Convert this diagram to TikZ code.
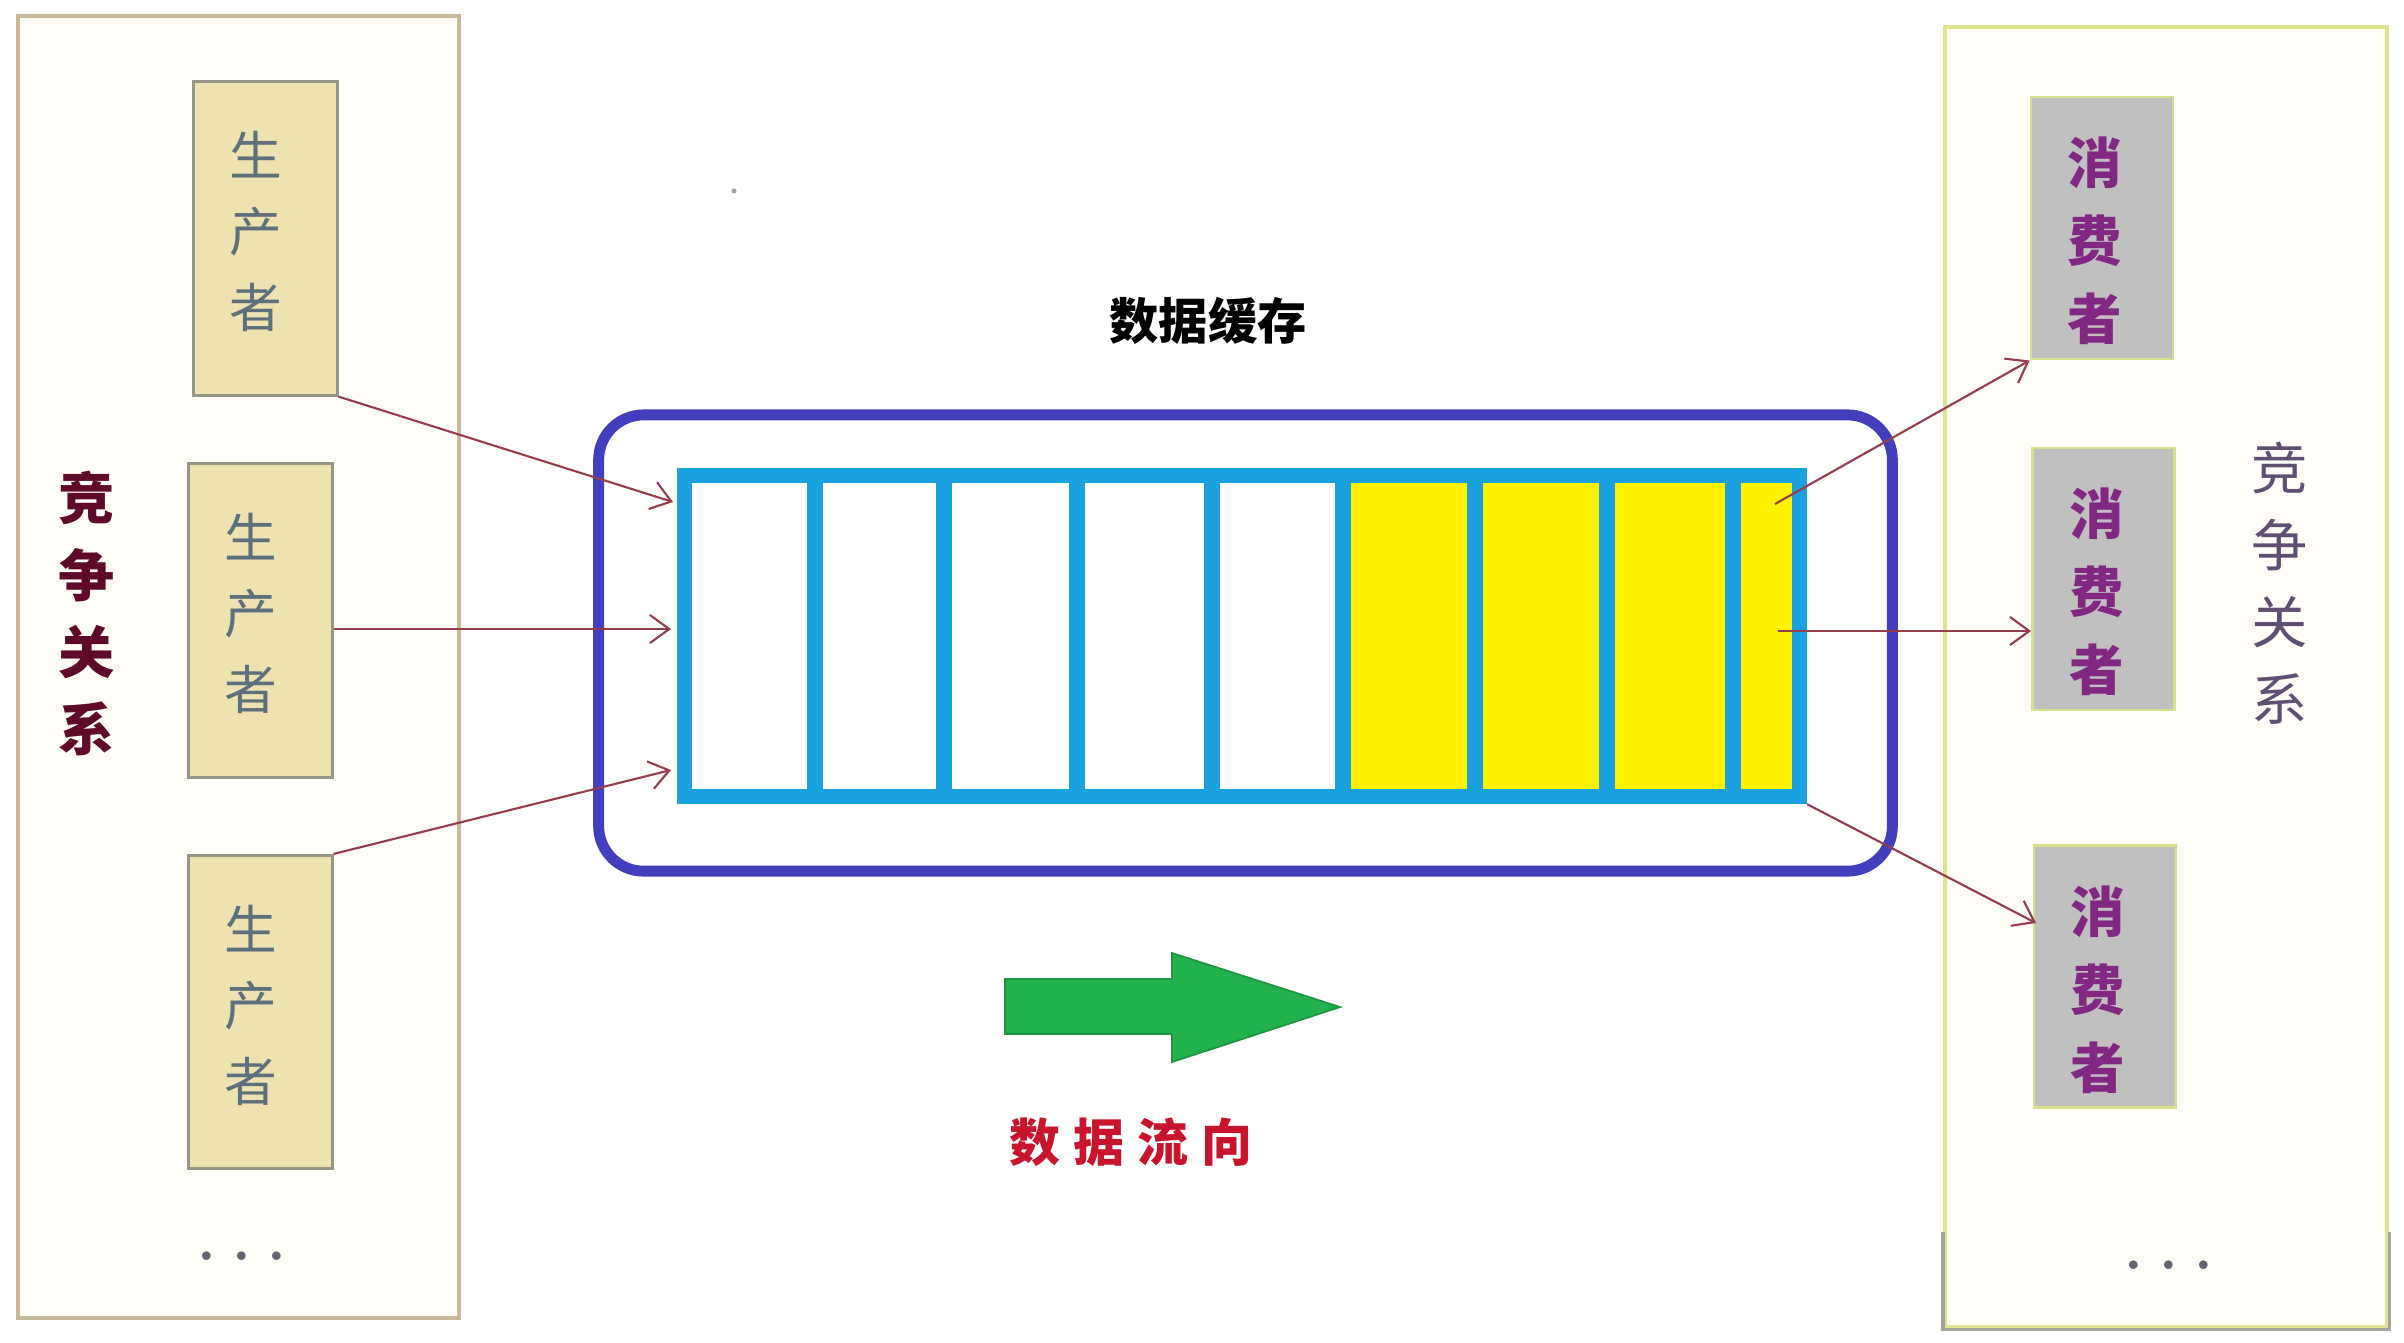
\documentclass[tikz,border=0pt]{standalone}
\usepackage{fontspec}
\newfontfamily\cjk{Noto Sans CJK SC}
\usetikzlibrary{arrows.meta}
\definecolor{grpLedge}{RGB}{200,185,155}
\definecolor{grpRedge}{RGB}{222,228,140}
\definecolor{grpRgray}{RGB}{165,165,155}
\definecolor{cream}{RGB}{254,253,247}
\definecolor{prodfill}{RGB}{238,226,176}
\definecolor{prodedge}{RGB}{150,150,135}
\definecolor{prodtext}{RGB}{95,112,125}
\definecolor{consfill}{RGB}{192,192,192}
\definecolor{consedge}{RGB}{215,225,140}
\definecolor{constext}{RGB}{130,40,130}
\definecolor{compL}{RGB}{95,10,40}
\definecolor{compR}{RGB}{95,80,115}
\definecolor{cacheblue}{RGB}{66,62,190}
\definecolor{bufcyan}{RGB}{26,160,222}
\definecolor{cellyellow}{RGB}{255,242,0}
\definecolor{connred}{RGB}{150,60,75}
\definecolor{flowgreen}{RGB}{34,177,76}
\definecolor{flowgreendk}{RGB}{30,150,64}
\definecolor{flowred}{RGB}{200,20,45}
\definecolor{dotgray}{RGB}{100,100,110}
\begin{document}
\begin{tikzpicture}[x=0.01cm,y=-0.01cm,
  grpbox/.style={draw, line width=1.1pt, fill=cream, inner sep=0pt},
  prodbox/.style={draw=prodedge, fill=prodfill, line width=0.85pt, inner sep=0pt,
    minimum width=1.43cm, minimum height=3.13cm},
  prodlbl/.style={font=\cjk\fontsize{15pt}{21.6pt}\selectfont, text=prodtext, align=center,
    inner sep=0pt, xshift=-0.1cm, yshift=0.07cm},
  consbox/.style={draw=consedge, fill=consfill, line width=0.8pt, inner sep=0pt,
    minimum width=1.42cm, minimum height=2.62cm},
  conslbl/.style={font=\cjk\bfseries\fontsize{15.5pt}{22.2pt}\selectfont, text=constext, align=center,
    inner sep=0pt, xshift=-0.07cm, yshift=-0.13cm},
  complbl/.style={align=center, inner sep=0pt},
  cellbox/.style={draw=bufcyan, line width=4.3pt, inner sep=0pt, minimum height=3.21cm},
  conn/.style={draw=connred, line width=0.6pt, -{Straight Barb[length=5.5pt,width=8pt]}},
  dotlbl/.style={font=\bfseries\fontsize{17pt}{20pt}\selectfont, text=dotgray, inner sep=0pt}
]
\useasboundingbox (0,0) rectangle (2404,1342);
\fill[white] (0,0) rectangle (2404,1342);

% group frames
\node[grpbox, draw=grpLedge, minimum width=4.41cm, minimum height=13.02cm] (grpL) at (238.5,667) {};
\node[grpbox, draw=grpRedge, minimum width=4.42cm, minimum height=13.00cm] (grpR) at (2166,677) {};
\coordinate (gcut) at (0,1232);
\draw[grpRgray, line width=0.9pt] (grpR.west |- gcut) -- (grpR.south west) -- (grpR.south east) -- (grpR.east |- gcut);

% producers
\node[prodbox, label={[prodlbl]center:生\\产\\者}] (p1) at (265.5,238.5) {};
\node[prodbox, label={[prodlbl]center:生\\产\\者}] (p2) at (260.5,620.5) {};
\node[prodbox, label={[prodlbl]center:生\\产\\者}] (p3) at (260.5,1012) {};

% consumers
\node[consbox, label={[conslbl]center:消\\费\\者}] (c1) at (2102,228) {};
\node[consbox, label={[conslbl]center:消\\费\\者}] (c2) at (2103.5,579) {};
\node[consbox, label={[conslbl]center:消\\费\\者}] (c3) at (2105,976.5) {};

% competition labels
\node[complbl, text=compL, font=\cjk\bfseries\fontsize{16pt}{21.9pt}\selectfont] (compl) at (87,613) {竞\\争\\关\\系};
\node[complbl, text=compR, font=\cjk\fontsize{16pt}{21.9pt}\selectfont] (compr) at (2280,583) {竞\\争\\关\\系};

% dots
\node[dotlbl] (dotsl) at (242,1256) {.\hspace{0.16cm}.\hspace{0.16cm}.};
\node[dotlbl] (dotsr) at (2169,1265) {.\hspace{0.16cm}.\hspace{0.16cm}.};
\fill[gray!70] (734,191) circle[radius=0.025cm];

% title
\node[font=\cjk\bfseries\fontsize{14pt}{17pt}\selectfont, text=black] (title) at (1208,321) {数据缓存};

% cache frame
\node[draw=cacheblue, line width=3.1pt, rounded corners=0.45cm, inner sep=0pt,
  minimum width=12.93cm, minimum height=4.56cm] (cache) at (1245.5,643) {};

% buffer cells
\node[cellbox, fill=white, minimum width=1.305cm] (cell1) at (749.75,636) {};
\node[cellbox, fill=white, minimum width=1.29cm] (cell2) at (879.5,636) {};
\node[cellbox, fill=white, minimum width=1.33cm] (cell3) at (1010.5,636) {};
\node[cellbox, fill=white, minimum width=1.35cm] (cell4) at (1144.5,636) {};
\node[cellbox, fill=white, minimum width=1.31cm] (cell5) at (1277.5,636) {};
\node[cellbox, fill=cellyellow, minimum width=1.32cm] (cell6) at (1409,636) {};
\node[cellbox, fill=cellyellow, minimum width=1.32cm] (cell7) at (1541,636) {};
\node[cellbox, fill=cellyellow, minimum width=1.26cm] (cell8) at (1670,636) {};
\node[cellbox, fill=cellyellow, minimum width=0.665cm] (cell9) at (1766.25,636) {};

% data flow arrow
\filldraw[fill=flowgreen, draw=flowgreendk, line width=0.5pt]
  (1005,979) -- (1172,979) -- (1172,953) -- (1340,1007) -- (1172,1062) -- (1172,1034) -- (1005,1034) -- cycle;
\node[font=\cjk\bfseries\fontsize{14.5pt}{17pt}\selectfont, text=flowred] (flowlbl) at (1131,1142)
  {数\hspace{0.13cm}据\hspace{0.13cm}流\hspace{0.13cm}向};

% connectors
\coordinate (t1) at (673,502);
\coordinate (t2) at (671,629);
\coordinate (t3) at (671,770);
\coordinate (s4) at (1775,504);
\coordinate (s5) at (1778,631);
\coordinate (t6) at (2036,923);
\draw[conn] (p1.south east) -- (t1);
\draw[conn] (p2.east |- t2) -- (t2);
\draw[conn] (p3.north east) -- (t3);
\draw[conn] (s4) -- (c1.south west);
\draw[conn] (s5) -- (c2.west |- s5);
\draw[conn] (cell9.south east) -- (t6);
\end{tikzpicture}
\end{document}
